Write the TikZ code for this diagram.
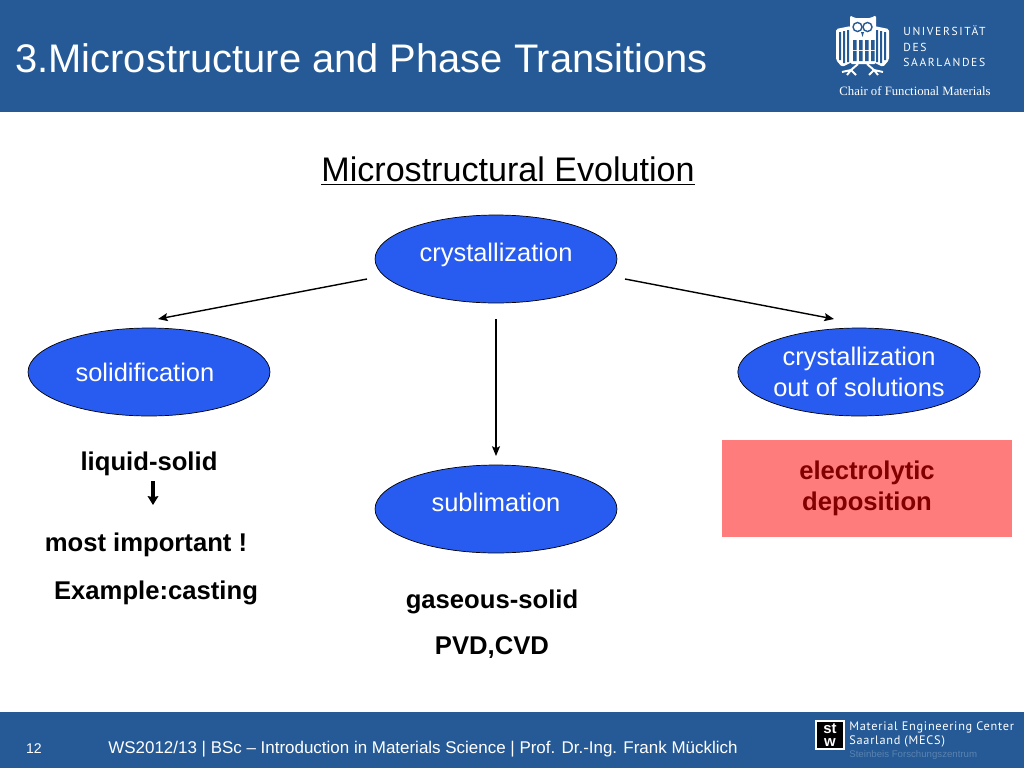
\documentclass[tikz,border=0pt]{standalone}
\usepackage{fontspec}
\setmainfont{Liberation Sans}
\newfontfamily\serifname{Liberation Serif}
\newfontfamily\logofont[LetterSpace=14]{PT Sans}
\newfontfamily\mecsfont[LetterSpace=6]{PT Sans}
\usetikzlibrary{arrows.meta,shapes.geometric}
\definecolor{band}{RGB}{37,90,150}
\definecolor{blob}{RGB}{40,92,240}
\definecolor{salmon}{RGB}{255,124,124}
\definecolor{darkred}{RGB}{130,0,0}
\definecolor{faded}{RGB}{90,130,175}
\newcommand{\fsize}[1]{\fontsize{#1}{17.6}\selectfont}
\newcommand{\pxunit}{*0.569pt}
\tikzset{
  blobnode/.style={ellipse,draw=black,fill=blob,text=white,minimum width=242\pxunit,minimum height=88\pxunit,inner sep=0pt,align=center,font=\fsize{14.5}},
  boldtext/.style={font=\fsize{14.6}\bfseries,text=black,inner sep=0pt},
  thinarrow/.style={-{Stealth[length=5.5pt,width=4.5pt,inset=1pt]},thick},
  whitetext/.style={text=white,inner sep=0pt}
}
\begin{document}
\begin{tikzpicture}[x=0.02cm,y=-0.02cm]
    \useasboundingbox (0,0) rectangle (1024,768);
    \fill[band] (0,0) rectangle (1024,112);
    \fill[band] (0,712) rectangle (1024,768);
    \node[whitetext,anchor=west,font=\fsize{22.7}] (title) at (15,58) {3.Microstructure and Phase Transitions};
    \node[boldtext,font=\fsize{19.4},anchor=center] (heading) at (508,171) {\mdseries\underline{Microstructural Evolution}};
    % owl
    \fill[white,rounded corners=1pt] (850,15) -- (854,18) -- (871,18) -- (876,15) -- (876,64) -- (850,64) -- cycle;
    \foreach \s/\o in {1/0,-1/1725} {
      \begin{scope}[xscale=\s,xshift=\s*\o*0.02cm]
        \fill[white,rounded corners=1pt] (836,29) -- (851,26) -- (852,62) -- (842,67) -- (836,60) -- cycle;
        \fill[band] (839,32) rectangle (841,60) (843,31) rectangle (845,63) (847,30) rectangle (849,62);
        \draw[white,line width=1.1pt] (858,64) -- (851,70) -- (842,72) (851,70) -- (847,75) (851,70) -- (856,75);
        \draw[band,line width=0.8pt] (857.5,27) circle (4.5);
      \end{scope}
    }
    \fill[band] (861,32) -- (864,32) -- (862.5,37) -- cycle;
    \foreach \x in {853,859,865,871} {
      \fill[band] (\x,40) rectangle ++(3.5,10) (\x,51) rectangle ++(3.5,10);
    }
    \node[whitetext,anchor=west,font=\logofont\fsize{6.6}] (uni) at (903,31) {UNIVERSITÄT};
    \node[whitetext,anchor=west,font=\logofont\fsize{6.6}] (des) at (903,47) {DES};
    \node[whitetext,anchor=west,font=\logofont\fsize{6.6}] (saar) at (903,62) {SAARLANDES};
    \node[whitetext,font=\serifname\fsize{7.25}] (chair) at (915,91) {Chair of Functional Materials};
    % ellipses
    \node[blobnode] (crystal) at (496,259) {\raisebox{8.2pt}{crystallization}};
    \node[blobnode] (solid) at (149,372) {\hspace*{-4.6pt}\raisebox{-2pt}{solidification}};
    \node[blobnode] (solution) at (859,372) {crystallization\\out of solutions};
    \node[blobnode] (subl) at (496,509) {\raisebox{8.2pt}{sublimation}};
    \coordinate (a1) at (367,279);
    \coordinate (a2) at (158,319);
    \coordinate (b1) at (625,279);
    \coordinate (b2) at (834,319);
    \coordinate (c1) at (496,319);
    \coordinate (c2) at (496,456);
    \draw[thinarrow] (a1) -- (a2);
    \draw[thinarrow] (b1) -- (b2);
    \draw[thinarrow] (c1) -- (c2);
    % texts
    \node[draw=none,fill=salmon,minimum width=290\pxunit,minimum height=97\pxunit,inner sep=0pt,align=center,text=darkred,font=\fsize{14.6}\bfseries] (depo) at (867,488.5) {electrolytic\\deposition};
    \node[boldtext] (liquid) at (149,464) {liquid-solid};
    \node[boldtext] (important) at (146,545) {most important !};
    \node[boldtext] (casting) at (156,593) {Example:casting};
    \node[boldtext] (gas) at (492,602) {gaseous-solid};
    \node[boldtext] (pvd) at (492,648) {PVD,CVD};
    \coordinate (d1) at (153,481);
    \coordinate (d2) at (153,505);
    \draw[-{Stealth[length=5pt,width=6pt,inset=0.5pt]},line width=2.4pt] (d1) -- (d2);
    % footer
    \node[whitetext,font=\fsize{8}] (page) at (34,749) {12};
    \node[whitetext,anchor=west,font=\fsize{9.65}] (foot) at (108,749) {WS2012/13 | BSc -- Introduction in Materials Science | Prof. Dr.-Ing. Frank Mücklich};
    \node[draw=white,fill=black,line width=1pt,minimum size=28\pxunit,inner sep=0pt,align=center,text=white,font=\fontsize{8.5}{7.5}\selectfont\bfseries] (stw) at (830,735) {st\\w};
    \node[whitetext,anchor=west,font=\mecsfont\fsize{7}] (mecs1) at (849,727) {Material Engineering Center};
    \node[whitetext,anchor=west,font=\mecsfont\fsize{7}] (mecs2) at (849,741) {Saarland (MECS)};
    \node[text=faded,inner sep=0pt,anchor=west,font=\fsize{5.5}] (mecs3) at (849,755) {Steinbeis Forschungszentrum};
\end{tikzpicture}
\end{document}
